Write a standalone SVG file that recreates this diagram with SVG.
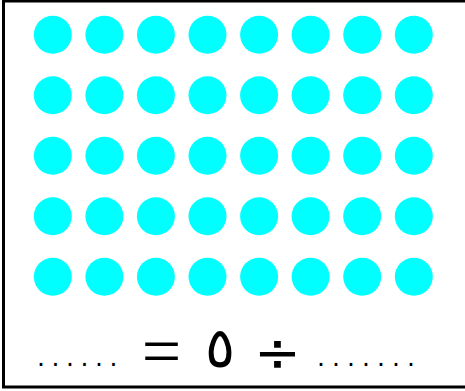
<svg xmlns="http://www.w3.org/2000/svg" width="465" height="391" viewBox="0 0 465 391">
<style>
.dot{fill:#00ffff}
.t{font-family:"DejaVu Sans","Liberation Sans",sans-serif;fill:#000;text-anchor:middle}
.s{font-family:"Liberation Serif","DejaVu Serif",serif;fill:#000;text-anchor:middle}
</style>
<rect width="465" height="391" fill="#fff"/>
<rect x="3.5" y="1" width="470" height="386" fill="none" stroke="#000" stroke-width="3"/>
<g id="dots">
<g id="row1">
<circle class="dot" cx="52.8" cy="34.7" r="19"/><circle class="dot" cx="104.4" cy="34.7" r="19"/><circle class="dot" cx="155.9" cy="34.7" r="19"/><circle class="dot" cx="207.5" cy="34.7" r="19"/><circle class="dot" cx="259.1" cy="34.7" r="19"/><circle class="dot" cx="310.6" cy="34.7" r="19"/><circle class="dot" cx="362.2" cy="34.7" r="19"/><circle class="dot" cx="413.8" cy="34.7" r="19"/>
</g>
<g id="row2">
<circle class="dot" cx="52.8" cy="95.2" r="19"/><circle class="dot" cx="104.4" cy="95.2" r="19"/><circle class="dot" cx="155.9" cy="95.2" r="19"/><circle class="dot" cx="207.5" cy="95.2" r="19"/><circle class="dot" cx="259.1" cy="95.2" r="19"/><circle class="dot" cx="310.6" cy="95.2" r="19"/><circle class="dot" cx="362.2" cy="95.2" r="19"/><circle class="dot" cx="413.8" cy="95.2" r="19"/>
</g>
<g id="row3">
<circle class="dot" cx="52.8" cy="155.7" r="19"/><circle class="dot" cx="104.4" cy="155.7" r="19"/><circle class="dot" cx="155.9" cy="155.7" r="19"/><circle class="dot" cx="207.5" cy="155.7" r="19"/><circle class="dot" cx="259.1" cy="155.7" r="19"/><circle class="dot" cx="310.6" cy="155.7" r="19"/><circle class="dot" cx="362.2" cy="155.7" r="19"/><circle class="dot" cx="413.8" cy="155.7" r="19"/>
</g>
<g id="row4">
<circle class="dot" cx="52.8" cy="216.2" r="19"/><circle class="dot" cx="104.4" cy="216.2" r="19"/><circle class="dot" cx="155.9" cy="216.2" r="19"/><circle class="dot" cx="207.5" cy="216.2" r="19"/><circle class="dot" cx="259.1" cy="216.2" r="19"/><circle class="dot" cx="310.6" cy="216.2" r="19"/><circle class="dot" cx="362.2" cy="216.2" r="19"/><circle class="dot" cx="413.8" cy="216.2" r="19"/>
</g>
<g id="row5">
<circle class="dot" cx="52.8" cy="276.7" r="19"/><circle class="dot" cx="104.4" cy="276.7" r="19"/><circle class="dot" cx="155.9" cy="276.7" r="19"/><circle class="dot" cx="207.5" cy="276.7" r="19"/><circle class="dot" cx="259.1" cy="276.7" r="19"/><circle class="dot" cx="310.6" cy="276.7" r="19"/><circle class="dot" cx="362.2" cy="276.7" r="19"/><circle class="dot" cx="413.8" cy="276.7" r="19"/>
</g>
</g>
<g id="equation">
<text class="t" font-size="25" x="41 55.5 70 84.5 99 113.5" y="366">......</text>
<text class="s" font-size="70" x="161.5" y="375">=</text>
<text class="t" font-size="56" x="220" y="367">٥</text>
<text class="t" font-size="56" x="277.5" y="371">÷</text>
<text class="t" font-size="25" x="321 336 351 366 381 396 411" y="366">.......</text>
</g>
</svg>
